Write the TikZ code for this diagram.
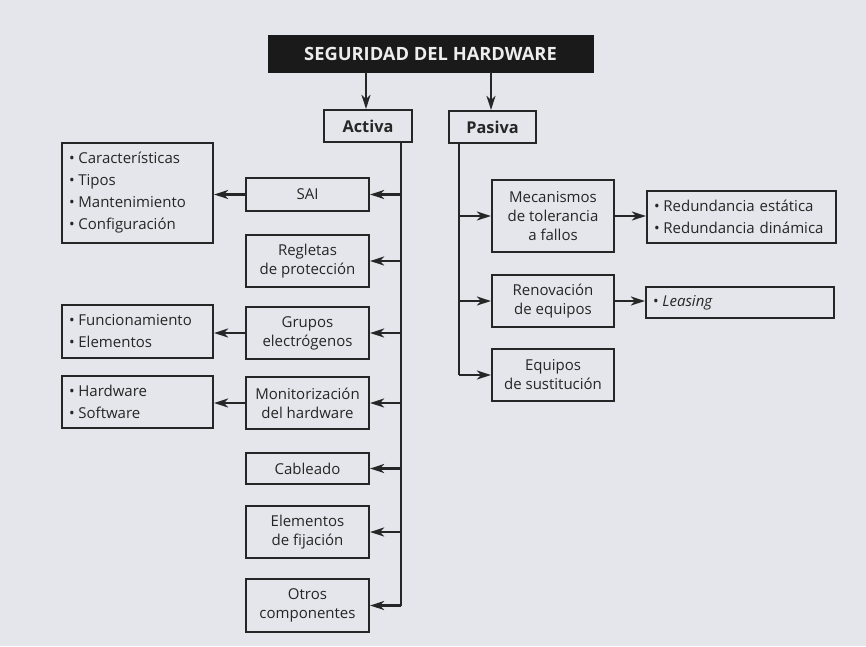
\documentclass[tikz,border=0pt]{standalone}
\usepackage{fontspec}
\setmainfont{Open Sans}
\usetikzlibrary{arrows.meta}
\definecolor{bg}{HTML}{E4E6EC}
\definecolor{ln}{HTML}{262626}
\definecolor{ttl}{HTML}{1A1A1A}
\definecolor{ttltext}{HTML}{EDEDED}
\tikzset{
  box/.style={draw=ln, line width=2.2pt, fill=bg, inner sep=0pt, align=center,
    font=\fontsize{15}{19}\selectfont, text=ln},
  listbox/.style={draw=ln, line width=2.2pt, fill=bg, inner ysep=0pt, inner xsep=7pt, align=left,
    font=\fontsize{15}{22}\selectfont, text=ln},
  conn/.style={draw=ln, line width=2.2pt},
  arr/.style={conn, -{Stealth[length=14pt,width=9pt,inset=4pt]}},
}
\newcommand{\bul}{\textbullet\hspace{0.25em}}
\begin{document}
\begin{tikzpicture}[x=1pt,y=-1pt]
\fill[bg] (0,0) rectangle (866,646);
\useasboundingbox (0,0) rectangle (866,646);

% title
\node[fill=ttl, draw=ttl, minimum width=325pt, minimum height=37pt, inner sep=0pt,
  text=ttltext, font=\fontsize{18.3}{20}\selectfont\bfseries] (title) at (430.5,53.5) {SEGURIDAD DEL HARDWARE};

\node[box, minimum width=88pt, minimum height=32pt, font=\fontsize{16.3}{19}\selectfont\bfseries] (activa) at (368,126) {Activa};
\node[box, minimum width=87pt, minimum height=32pt, font=\fontsize{16.3}{19}\selectfont\bfseries] (pasiva) at (492.5,127) {Pasiva};

\draw[arr] (title.south -| 366,0) -- (activa.north -| 366,0);
\draw[arr] (title.south -| 491,0) -- (pasiva.north -| 491,0);

% activa branch
\node[box, minimum width=123pt, minimum height=33pt] (sai) at (307.5,194.5) {SAI};
\node[box, minimum width=123pt, minimum height=52pt] (regletas) at (307.5,261) {Regletas\\de protección};
\node[box, minimum width=123pt, minimum height=52pt] (grupos) at (307.5,333) {Grupos\\electrógenos};
\node[box, minimum width=123pt, minimum height=52pt] (monitor) at (307.5,403) {Monitorización\\del hardware};
\node[box, minimum width=123pt, minimum height=31pt] (cableado) at (307.5,468.5) {Cableado};
\node[box, minimum width=123pt, minimum height=52pt] (fijacion) at (307.5,532) {Elementos\\de fijación};
\node[box, minimum width=123pt, minimum height=53pt] (otros) at (307.5,605.5) {Otros\\componentes};

\node[listbox, minimum width=151pt, text width=137pt, minimum height=100pt] (caract) at (137.5,193)
  {\bul Características\\\bul Tipos\\\bul Mantenimiento\\\bul Configuración};
\node[listbox, minimum width=151pt, text width=137pt, minimum height=53pt] (func) at (137.5,331.5)
  {\bul Funcionamiento\\\bul Elementos};
\node[listbox, minimum width=151pt, text width=137pt, minimum height=52pt] (hw) at (137.5,402)
  {\bul Hardware\\\bul Software};

\coordinate (atop) at (activa.south -| 401,0);
\coordinate (abot) at (401,605.5);
\draw[conn] (atop) -- (abot);
\foreach \n in {sai,regletas,grupos,monitor,cableado,fijacion,otros}{
  \draw[arr] (\n.east -| abot) -- (\n.east);
}
\draw[arr] (sai.west) -- (caract.east |- sai.west);
\draw[arr] (grupos.west) -- (func.east |- grupos.west);
\draw[arr] (monitor.west) -- (hw.east |- monitor.west);

% pasiva branch
\node[box, minimum width=122pt, minimum height=72pt] (meca) at (553,216) {Mecanismos\\de tolerancia\\a fallos};
\node[box, minimum width=122pt, minimum height=52pt] (renov) at (553,301) {Renovación\\de equipos};
\node[box, minimum width=122pt, minimum height=52pt] (sust) at (553,375) {Equipos\\de sustitución};

\node[listbox, minimum width=189pt, text width=175pt, minimum height=52pt] (redund) at (741.5,217)
  {\bul Redundancia estática\\\bul Redundancia dinámica};
\node[listbox, minimum width=188pt, text width=174pt, minimum height=31pt] (leasing) at (740,302.5)
  {\bul \textit{Leasing}};

\coordinate (ptop) at (pasiva.south -| 459,0);
\coordinate (pbot) at (459,375);
\draw[conn] (ptop) -- (pbot);
\foreach \n in {meca,renov,sust}{
  \draw[arr] (\n.west -| pbot) -- (\n.west);
}
\draw[arr] (meca.east) -- (redund.west |- meca.east);
\draw[arr] (renov.east) -- (leasing.west |- renov.east);
\end{tikzpicture}
\end{document}
